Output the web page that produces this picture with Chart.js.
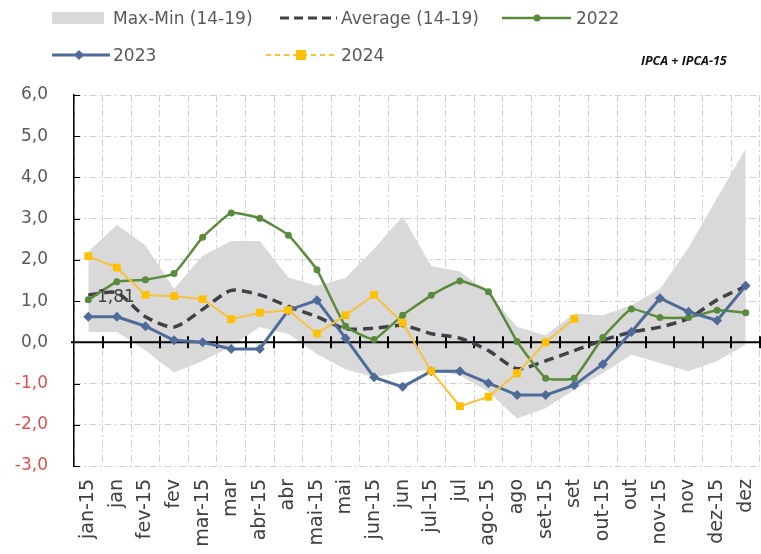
<!DOCTYPE html>
<html>
<head>
<meta charset="utf-8">
<script src="https://cdn.jsdelivr.net/npm/chart.js@4"></script>
<style>
  html, body { margin: 0; padding: 0; background: #fff; }
  #wrap { position: relative; width: 761px; height: 554px; overflow: hidden; }
  #chartBox { position: absolute; left: 0; top: 0; width: 761px; height: 554px; }
  .lg { position: absolute; font-family: "DejaVu Sans", sans-serif; font-size: 17px; color: #595959; white-space: nowrap; line-height: 20px; }
  .sw { position: absolute; }
  #note { position: absolute; left: 641px; top: 52px; font-family: "Open Sans", sans-serif; font-size: 12.5px; font-weight: bold; font-style: italic; color: #111; }
</style>
</head>
<body>
<div id="wrap">
  <div id="chartBox"><canvas id="ipcaChart"></canvas></div>

  <!-- legend row 1 -->
  <svg class="sw" style="left:52px;top:8px" width="54" height="20"><rect x="0" y="4" width="52" height="12" fill="#d9d9d9"/></svg>
  <div class="lg" style="left:113px;top:8px">Max-Min (14-19)</div>
  <svg class="sw" style="left:280px;top:8px" width="60" height="20"><line x1="0" y1="10" x2="57" y2="10" stroke="#404048" stroke-width="3" stroke-dasharray="9,5"/></svg>
  <div class="lg" style="left:341px;top:8px">Average (14-19)</div>
  <svg class="sw" style="left:502px;top:8px" width="70" height="20"><line x1="0" y1="10" x2="69" y2="10" stroke="#5a8a3c" stroke-width="2.5"/><circle cx="35" cy="10" r="3.5" fill="#5a8a3c"/></svg>
  <div class="lg" style="left:576px;top:8px">2022</div>

  <!-- legend row 2 -->
  <svg class="sw" style="left:52px;top:45px" width="60" height="20"><line x1="0" y1="10" x2="58" y2="10" stroke="#4f6b97" stroke-width="3"/><polygon points="27,5 32,10 27,15 22,10" fill="#4f6b97"/></svg>
  <div class="lg" style="left:113px;top:45px">2023</div>
  <svg class="sw" style="left:266px;top:45px" width="72" height="20"><line x1="0" y1="10" x2="71" y2="10" stroke="#f5c242" stroke-width="2" stroke-dasharray="5,4"/><rect x="30" y="5" width="10" height="10" fill="#ffc000"/></svg>
  <div class="lg" style="left:341px;top:45px">2024</div>

  <div id="note">IPCA + IPCA-15</div>
</div>

<script>
// months (two readings per month: IPCA-15 and IPCA)
const labels = ['jan-15', 'jan', 'fev-15', 'fev', 'mar-15', 'mar', 'abr-15', 'abr',
                'mai-15', 'mai', 'jun-15', 'jun', 'jul-15', 'jul', 'ago-15', 'ago',
                'set-15', 'set', 'out-15', 'out', 'nov-15', 'nov', 'dez-15', 'dez'];

// Max-Min band 2014-2019
const bandMax = [2.2, 2.85, 2.35, 1.3, 2.1, 2.46, 2.46, 1.57, 1.37, 1.56, 2.27, 3.06,
                 1.85, 1.72, 1.2, 0.37, 0.17, 0.7, 0.66, 0.9, 1.3, 2.3, 3.5, 4.7];
const bandMin = [0.25, 0.25, -0.2, -0.73, -0.45, -0.1, 0.37, 0.2, -0.28, -0.65, -0.85, -0.72,
                 -0.67, -0.8, -1.2, -1.85, -1.6, -1.15, -0.75, -0.3, -0.5, -0.7, -0.45, -0.05];

// average 2014-2019
const avg1419 = [1.15, 1.2, 0.62, 0.37, 0.8, 1.26, 1.15, 0.87, 0.62, 0.33, 0.34, 0.41,
                 0.21, 0.1, -0.2, -0.64, -0.45, -0.2, 0.05, 0.25, 0.37, 0.58, 1.03, 1.36];

const y2022 = [1.03, 1.47, 1.52, 1.67, 2.55, 3.14, 3.01, 2.6, 1.76, 0.39, 0.07, 0.66,
               1.14, 1.49, 1.23, 0.02, -0.87, -0.87, 0.12, 0.81, 0.6, 0.6, 0.78, 0.72];
const y2023 = [0.62, 0.62, 0.39, 0.05, 0.0, -0.16, -0.16, 0.78, 1.02, 0.1, -0.85, -1.08,
               -0.7, -0.7, -0.99, -1.28, -1.28, -1.04, -0.53, 0.25, 1.07, 0.74, 0.53, 1.37];
const y2024 = [2.09, 1.81, 1.15, 1.12, 1.05, 0.56, 0.72, 0.78, 0.21, 0.66, 1.15, 0.47,
               -0.7, -1.55, -1.32, -0.75, 0.0, 0.57, null, null, null, null, null, null];

const yMin = -3, yMax = 6, yStep = 1;

// data label shown next to jan
const noteLabel = { text: '1,81', index: 1, value: 1.08 };

const gridColor = '#d0d0d0';
const gridDash = [7, 3, 2, 3];

// black zero axis with tick marks, drawn over the band but under the lines
const zeroAxis = {
    id: 'zeroAxis',
    afterDatasetDraw(chart, args) {
        if (args.index !== 4) return;
        const ctx = chart.ctx, a = chart.chartArea;
        const y0 = chart.scales.y.getPixelForValue(0);
        const w = (a.right - a.left) / labels.length;
        ctx.save();
        ctx.strokeStyle = '#000';
        ctx.lineWidth = 2;
        ctx.beginPath();
        ctx.moveTo(a.left - 3, y0);
        ctx.lineTo(a.right, y0);
        for (let i = 1; i <= labels.length; i++) {
            const x = Math.round(a.left + i * w);
            ctx.moveTo(x, y0 - 6);
            ctx.lineTo(x, y0 + 6);
        }
        ctx.stroke();
        // small inside ticks on the value axis
        ctx.lineWidth = 1.2;
        ctx.beginPath();
        for (let v = yMin; v <= yMax; v += yStep) {
            const y = Math.round(chart.scales.y.getPixelForValue(v)) + 0.5;
            ctx.moveTo(a.left, y);
            ctx.lineTo(a.left + 6, y);
        }
        ctx.stroke();
        ctx.restore();
    }
};

const textNote = {
    id: 'textNote',
    afterDatasetsDraw(chart) {
        const ctx = chart.ctx;
        const x = chart.scales.x.getPixelForValue(noteLabel.index) - 1;
        const y = chart.scales.y.getPixelForValue(noteLabel.value);
        ctx.save();
        ctx.font = '17px "DejaVu Sans", sans-serif';
        ctx.fillStyle = '#404040';
        ctx.textAlign = 'center';
        ctx.textBaseline = 'middle';
        ctx.fillText(noteLabel.text, x, y);
        ctx.restore();
    }
};

const ctx = document.getElementById('ipcaChart').getContext('2d');
new Chart(ctx, {
    type: 'line',
    data: {
        labels: labels,
        datasets: [
            { label: '2024', data: y2024, borderColor: '#f5c242', borderWidth: 2,
              pointStyle: 'rect', pointRadius: 5.5, pointBackgroundColor: '#ffc000', pointBorderWidth: 0, tension: 0 },
            { label: '2023', data: y2023, borderColor: '#4f6b97', borderWidth: 3,
              pointStyle: 'rectRot', pointRadius: 5, pointBackgroundColor: '#4f6b97', pointBorderWidth: 0, tension: 0 },
            { label: '2022', data: y2022, borderColor: '#5a8a3c', borderWidth: 2.5,
              pointStyle: 'circle', pointRadius: 3.5, pointBackgroundColor: '#5a8a3c', pointBorderWidth: 0, tension: 0.12 },
            { label: 'Average (14-19)', data: avg1419, borderColor: '#404048', borderWidth: 3.5,
              borderDash: [10, 6], pointRadius: 0, tension: 0.25 },
            { label: 'Max', data: bandMax, borderWidth: 0, pointRadius: 0,
              backgroundColor: '#d9d9d9', fill: '+1' },
            { label: 'Min', data: bandMin, borderWidth: 0, pointRadius: 0, fill: false }
        ]
    },
    options: {
        responsive: true,
        maintainAspectRatio: false,
        animation: false,
        layout: { autoPadding: false, padding: { top: 95, right: 1, left: 0, bottom: 0 } },
        plugins: { legend: { display: false }, tooltip: { enabled: false } },
        scales: {
            x: {
                offset: true,
                grid: { color: gridColor, offset: true, drawTicks: false },
                border: { display: false, dash: gridDash },
                ticks: {
                    color: '#404040', font: { family: 'DejaVu Sans', size: 19 },
                    minRotation: 90, maxRotation: 90, padding: 13, autoSkip: false
                },
                afterFit: s => { s.height = 88; s.paddingLeft = 0; s.paddingRight = 0; }
            },
            y: {
                min: yMin, max: yMax,
                grid: { color: gridColor, drawTicks: false },
                border: { display: true, color: '#000', width: 1.5, dash: gridDash },
                ticks: {
                    stepSize: yStep, padding: 26,
                    color: c => c.tick.value < 0 ? '#d9534f' : '#595959',
                    font: { family: 'DejaVu Sans', size: 17 },
                    callback: v => v.toFixed(1).replace('.', ',')
                },
                afterFit: s => { s.width = 74; }
            }
        }
    },
    plugins: [zeroAxis, textNote]
});
</script>
</body>
</html>
